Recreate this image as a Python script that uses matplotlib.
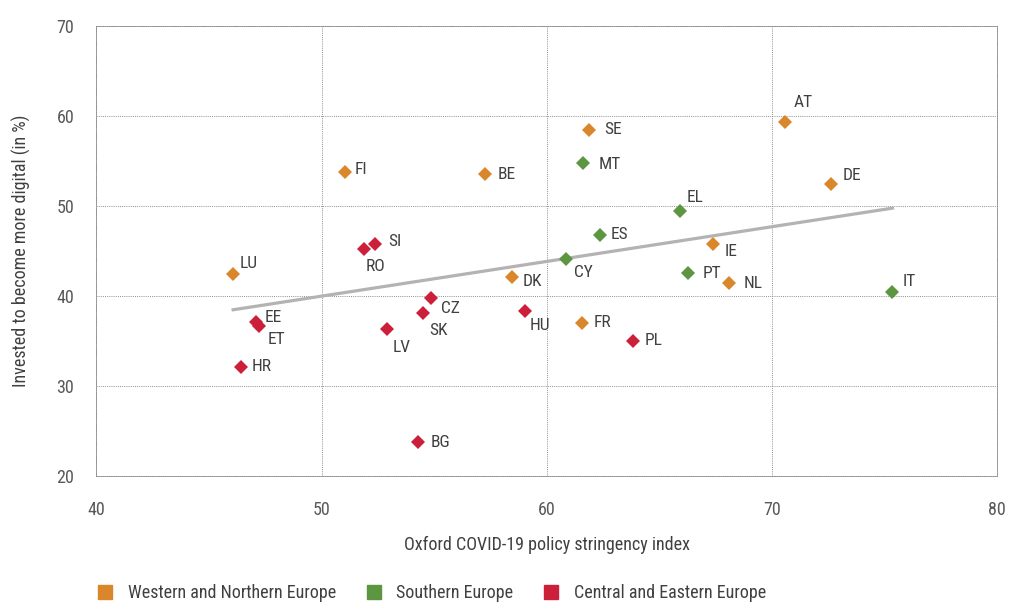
import matplotlib
matplotlib.use("Agg")
import matplotlib.pyplot as plt
from matplotlib.lines import Line2D
import numpy as np

plt.rcParams['font.family'] = ['Roboto Condensed', 'Open Sans Condensed', 'Liberation Sans', 'DejaVu Sans']

# data
west_names = ['LU', 'FI', 'BE', 'SE', 'DK', 'FR', 'AT', 'DE', 'IE', 'NL']
west_x = [46.07, 51.03, 57.27, 61.88, 58.48, 61.55, 70.59, 72.62, 67.39, 68.10]
west_y = [42.42, 53.8, 53.5, 58.46, 42.09, 37.01, 59.31, 52.42, 45.79, 41.39]

south_names = ['MT', 'EL', 'ES', 'CY', 'PT', 'IT']
south_x = [61.62, 65.91, 62.36, 60.85, 66.30, 75.36]
south_y = [54.76, 49.42, 46.79, 44.12, 42.53, 40.42]

east_names = ['SI', 'RO', 'CZ', 'SK', 'LV', 'HU', 'PL', 'EE', 'ET', 'HR', 'BG']
east_x = [52.37, 51.87, 54.88, 54.51, 52.89, 59.04, 63.84, 47.08, 47.23, 46.40, 54.29]
east_y = [45.72, 45.23, 39.79, 38.06, 36.31, 38.34, 35.01, 37.06, 36.64, 32.12, 23.72]

# label offsets in pixels (dx, dy)
offsets = {
    'LU': (7, 11), 'FI': (10, 2), 'BE': (12, 0), 'SE': (15, 0), 'DK': (10, -4),
    'FR': (12, 0), 'AT': (9, 20), 'DE': (12, 9), 'IE': (12, -8), 'NL': (15, 0),
    'MT': (15, -2), 'EL': (7, 14), 'ES': (11, 0), 'CY': (8, -14), 'PT': (14, 0),
    'IT': (10, 11), 'SI': (13, 3), 'RO': (2, -18), 'CZ': (10, -11), 'SK': (6, -17),
    'LV': (6, -18), 'HU': (5, -15), 'PL': (12, 0), 'EE': (9, 5), 'ET': (8, -13),
    'HR': (11, 0), 'BG': (12, 0),
}

c_west = '#DA872C'
c_south = '#5C9640'
c_east = '#CC203A'
txt = '#404040'
tick_col = '#595959'

fig = plt.figure(figsize=(10.09, 6.09), dpi=100)
ax = fig.add_axes([0.0956, 0.2187, 0.8924, 0.7389])

# trend line over all countries
all_x = np.array(west_x + south_x + east_x)
all_y = np.array(west_y + south_y + east_y)
k, b = np.polyfit(all_x, all_y, 1)
xs = np.array([all_x.min(), all_x.max()])
ax.plot(xs, k * xs + b, color='#B3B3B6', lw=2.3, zorder=2)

groups = [
    (west_names, west_x, west_y, c_west),
    (south_names, south_x, south_y, c_south),
    (east_names, east_x, east_y, c_east),
]
for names, xv, yv, col in groups:
    ax.plot(xv, yv, 'D', color=col, markersize=7.5, markeredgewidth=0, zorder=3)
    for n, x, y in zip(names, xv, yv):
        dx, dy = offsets[n]
        ax.annotate(n, (x, y), xytext=(dx, dy), textcoords='offset pixels',
                    ha='left', va='center', fontsize=12.5, color=txt)

ax.set_xlim(40, 80)
ax.set_ylim(20, 70)
ax.set_xticks([40, 50, 60, 70, 80])
ax.set_yticks([20, 30, 40, 50, 60, 70])
ax.grid(True, color='#8F8F8F', linestyle=(0, (1, 1.2)), lw=0.7)
for s in ax.spines.values():
    s.set_color('#8F8F8F')
    s.set_linestyle((0, (1, 1.2)))
    s.set_linewidth(0.7)
ax.tick_params(length=0, labelsize=13, labelcolor=tick_col)
ax.tick_params(axis='x', pad=18)
ax.tick_params(axis='y', pad=16)

ax.set_xlabel('Oxford COVID-19 policy stringency index', fontsize=13, color=txt, labelpad=12)
ax.set_ylabel('Invested to become more digital (in %)', fontsize=13, color=txt, labelpad=18)

handles = [Line2D([], [], marker='s', linestyle='none', color=c, markersize=10)
           for c in (c_west, c_south, c_east)]
fig.legend(handles, ['Western and Northern Europe', 'Southern Europe', 'Central and Eastern Europe'],
           loc='lower left', bbox_to_anchor=(0.079, -0.015), ncol=3, frameon=False,
           fontsize=13, labelcolor=txt, handletextpad=0.75, columnspacing=1.6, handlelength=1.0)

fig.savefig('out.png', dpi=100)
